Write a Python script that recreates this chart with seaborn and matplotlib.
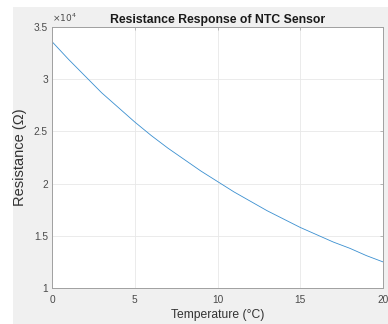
import matplotlib
matplotlib.use("Agg")
import matplotlib.pyplot as plt
import matplotlib.ticker as mticker
from matplotlib.patches import Rectangle
import seaborn as sns
import pandas as pd

temperature = [0, 1, 2, 3, 4, 5, 6, 7, 8, 9, 10, 11, 12, 13, 14, 15, 16, 17, 18, 19, 20]
resistance = [33600, 31900, 30300, 28700, 27300, 25900, 24600, 23400, 22300, 21200,
              20200, 19200, 18300, 17400, 16600, 15800, 15100, 14400, 13800, 13100, 12500]
x_ticks = [0, 5, 10, 15, 20]
y_ticks = [10000, 15000, 20000, 25000, 30000, 35000]

sns.set_theme(style="whitegrid")
plt.rcParams['font.family'] = ['Liberation Sans', 'DejaVu Sans']

df = pd.DataFrame({"Temperature": temperature, "Resistance": resistance})

fig = plt.figure(figsize=(3.88, 3.24), dpi=100)
fig.patch.set_facecolor("white")
fig.patches.append(Rectangle((13 / 388, 0), 1 - 13 / 388, 1 - 7 / 324,
                             transform=fig.transFigure, facecolor="#f0f0f0",
                             edgecolor="none", zorder=-10))
ax = fig.add_axes([52 / 388, 36 / 324, 331 / 388, 261 / 324])
ax.set_zorder(1)
ax.set_facecolor("white")

sns.lineplot(data=df, x="Temperature", y="Resistance", ax=ax,
             color="#3a8fd0", linewidth=0.6)

ax.set_xlim(0, 20)
ax.set_ylim(10000, 35000)
ax.set_xticks(x_ticks)
ax.set_yticks(y_ticks)
ax.yaxis.set_major_formatter(mticker.FuncFormatter(lambda v, p: f"{v/1e4:g}"))

for s in ax.spines.values():
    s.set_visible(True)
    s.set_color("#a0a0a0")
    s.set_linewidth(0.7)
ax.grid(True, color="#e8e8e8", linewidth=0.6)
ax.tick_params(axis="both", direction="in", length=2.5, width=0.5,
               labelsize=7.3, colors="#a0a0a0", labelcolor="#4a4a4a", pad=3,
               top=True, right=True)
ax.tick_params(axis="x", pad=5)

ax.set_xlabel("Temperature (°C)", fontsize=8.7, color="#333333", labelpad=3)
ax.set_ylabel("Resistance (Ω)", fontsize=10.5, color="#333333", labelpad=5)
ax.set_title("Resistance Response of NTC Sensor", fontsize=8.8, fontweight="bold",
             color="#1a1a1a", pad=3)
ax.text(0.0, 1.01, r"$\times10^{4}$", transform=ax.transAxes, fontsize=6.5,
        color="#4a4a4a", ha="left", va="bottom")

fig.savefig("out.png", dpi=100, facecolor=fig.get_facecolor())
